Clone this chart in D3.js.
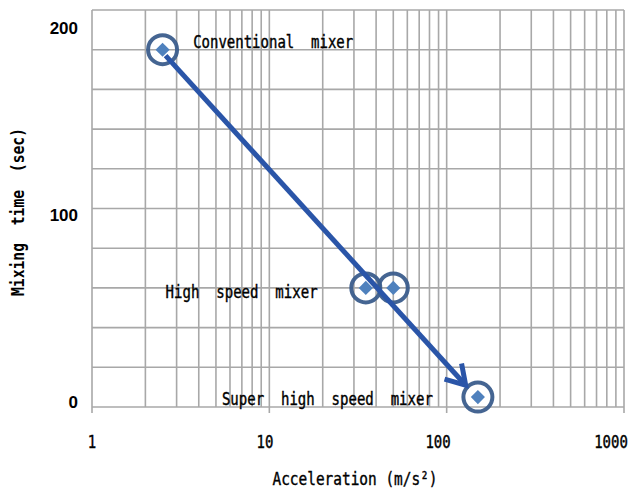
<!DOCTYPE html>
<html><head><meta charset="utf-8">
<script src="https://cdn.jsdelivr.net/npm/d3@7"></script>
<style>body{margin:0;background:#fff} text{white-space:pre}</style>
</head><body>
<svg id="c" width="634" height="491"></svg>
<script>
// data
const mixers = ["Conventional mixer","High speed mixer","High speed mixer","Super high speed mixer"];
const acceleration = [2.5, 35, 50, 150];
const mixingTime = [180, 60, 60, 5];
const arrowFrom = [2.6, 177];
const arrowTo = [128, 11];
const xTickLabels = [1, 10, 100, 1000];
const yTickLabels = [0, 100, 200];
const labelTexts = ["Conventional  mixer", "High  speed  mixer", "Super  high  speed  mixer"];
const labelAnchors = [[3.72, 184], [2.6, 58], [5.4, 4]];

const svg = d3.select("#c");
const L = 92, R = 624, T = 10, B = 407;
const x = d3.scaleLog().domain([1, 1000]).range([L, R]);
const y = d3.scaleLinear().domain([0, 200]).range([B, T]);
const yLab = d3.scaleLinear().domain([0, 200]).range([402, 28]);
const xLabPos = d3.scaleLog().domain([1, 1000]).range([92, 611]);
const grid = "#a8a8a8";

// vertical grid (log minor)
const vt = [];
for (let d = 1; d < 1000; d *= 10) for (let k = 1; k < 10; k++) vt.push(d * k);
vt.push(1000);
svg.append("g").selectAll("line").data(vt).join("line")
  .attr("x1", d => x(d)).attr("x2", d => x(d)).attr("y1", T).attr("y2", B)
  .attr("stroke", grid).attr("stroke-width", 1.6);
// horizontal grid
svg.append("g").selectAll("line").data(d3.range(0, 201, 20)).join("line")
  .attr("x1", L).attr("x2", R).attr("y1", d => y(d)).attr("y2", d => y(d))
  .attr("stroke", grid).attr("stroke-width", 1.6);
// major ticks below axis
svg.append("g").selectAll("line").data(xTickLabels).join("line")
  .attr("x1", d => x(d)).attr("x2", d => x(d)).attr("y1", B).attr("y2", B + 6)
  .attr("stroke", grid).attr("stroke-width", 1.6);

// y tick labels
svg.append("g").selectAll("text").data(yTickLabels).join("text")
  .attr("x", 78).attr("y", d => yLab(d)).attr("dy", "0.36em")
  .attr("text-anchor", "end").attr("font-family", "Liberation Sans, Arial, sans-serif")
  .attr("font-weight", "bold").attr("font-size", 17).attr("fill", "#000").text(d => d);
// x tick labels (tall, narrow glyphs)
svg.append("g").selectAll("text").data(xTickLabels).join("text")
  .attr("transform", d => `translate(${xLabPos(d)},441) scale(1,1.3)`).attr("dy", "0.36em")
  .attr("text-anchor", "middle").attr("font-family", "DejaVu Sans Mono, monospace")
  .attr("font-size", 14).attr("fill", "#000").attr("stroke", "#000").attr("stroke-width", 0.35)
  .text(d => d);

// axis titles
svg.append("text").attr("x", 355).attr("y", 479).attr("dy", "0.36em")
  .attr("text-anchor", "middle").attr("font-family", "DejaVu Sans Mono, monospace")
  .attr("font-size", 18).attr("fill", "#000").attr("stroke", "#000").attr("stroke-width", 0.4)
  .attr("textLength", 165).attr("lengthAdjust", "spacingAndGlyphs").text("Acceleration (m/s²)");
svg.append("text").attr("transform", "translate(18,212) rotate(-90)").attr("dy", "0.36em")
  .attr("text-anchor", "middle").attr("font-family", "DejaVu Sans Mono, monospace")
  .attr("font-size", 17).attr("font-weight", "bold").attr("fill", "#000")
  .attr("textLength", 168).attr("lengthAdjust", "spacingAndGlyphs").text("Mixing  time  (sec)");

// annotation labels
const labelW = [160, 152, 211];
svg.append("g").selectAll("text").data(labelTexts).join("text")
  .attr("x", (d, i) => x(labelAnchors[i][0])).attr("y", (d, i) => y(labelAnchors[i][1])).attr("dy", "0.36em")
  .attr("font-family", "DejaVu Sans Mono, monospace").attr("font-size", 17)
  .attr("fill", "#000").attr("stroke", "#000").attr("stroke-width", 0.4)
  .attr("textLength", (d, i) => labelW[i]).attr("lengthAdjust", "spacingAndGlyphs")
  .text(d => d);

// rings
svg.append("g").selectAll("circle").data(acceleration).join("circle")
  .attr("cx", d => x(d)).attr("cy", (d, i) => y(mixingTime[i])).attr("r", 14.5)
  .attr("fill", "none").attr("stroke", "#3b5d8c").attr("stroke-width", 4).attr("stroke-opacity", 0.95);
// diamonds
const diamond = d3.symbol().type(d3.symbolSquare).size(100);
svg.append("g").selectAll("path").data(acceleration).join("path")
  .attr("d", diamond)
  .attr("transform", (d, i) => `translate(${x(d)},${y(mixingTime[i])}) rotate(45)`)
  .attr("fill", "#4f81bd");

// arrow
const ax1 = x(arrowFrom[0]), ay1 = y(arrowFrom[1]), ax2 = x(arrowTo[0]), ay2 = y(arrowTo[1]);
const ang = Math.atan2(ay2 - ay1, ax2 - ax1);
const aCol = "#2a55a8";
svg.append("line").attr("x1", ax1).attr("y1", ay1).attr("x2", ax2 - 3 * Math.cos(ang)).attr("y2", ay2 - 3 * Math.sin(ang))
  .attr("stroke", aCol).attr("stroke-width", 5);
const hl = 22, ha = 0.55;
const p1 = [ax2 - hl * Math.cos(ang - ha), ay2 - hl * Math.sin(ang - ha)];
const p2 = [ax2 - hl * Math.cos(ang + ha), ay2 - hl * Math.sin(ang + ha)];
svg.append("path").attr("d", `M${p1}L${ax2},${ay2}L${p2}`)
  .attr("fill", "none").attr("stroke", aCol).attr("stroke-width", 5).attr("stroke-linejoin", "miter");
</script>
</body></html>
